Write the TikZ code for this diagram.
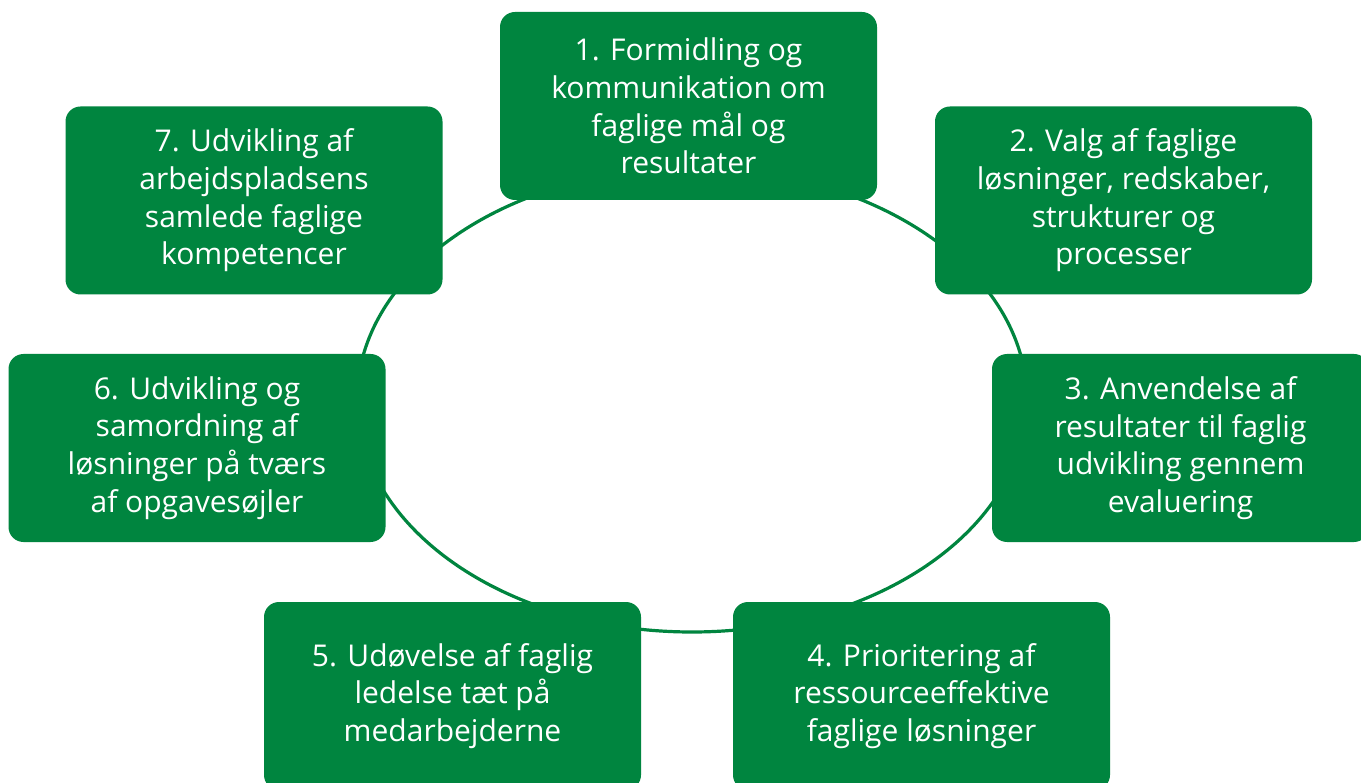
\documentclass[tikz,border=0pt]{standalone}
\usepackage{fontspec}
\setmainfont{Open Sans}
\definecolor{dgreen}{RGB}{0,133,63}
\begin{document}
\begin{tikzpicture}[x=1pt,y=-1pt,
  card/.style={fill=dgreen,draw=none,rounded corners=15pt,minimum width=377pt,minimum height=188pt,
    inner sep=0pt,align=center,text=white,font=\fontsize{30}{37.7}\selectfont},
  ring/.style={draw=dgreen,line width=3.2pt}]
\clip (0,0) rectangle (1361,783);
\fill[white] (0,0) rectangle (1361,783);
\draw[ring] (692,400) ellipse [x radius=335, y radius=232];
\node[card] (b1) at (688.5,106) {1. Formidling og\\kommunikation om\\faglige mål og\\resultater};
\node[card] (b2) at (1123.5,200.5) {2. Valg af faglige\\løsninger, redskaber,\\strukturer og\\processer};
\node[card] (b3) at (1180.5,448) {3. Anvendelse af\\resultater til faglig\\udvikling gennem\\evaluering};
\node[card] (b4) at (921.5,696) {4. Prioritering af\\ressourceeffektive\\faglige løsninger};
\node[card] (b5) at (452.5,696) {5. Udøvelse af faglig\\ledelse tæt på\\medarbejderne};
\node[card] (b6) at (197,448) {6. Udvikling og\\samordning af\\løsninger på tværs\\af opgavesøjler};
\node[card] (b7) at (254,200.5) {7. Udvikling af\\arbejdspladsens\\samlede faglige\\kompetencer};
\end{tikzpicture}
\end{document}
